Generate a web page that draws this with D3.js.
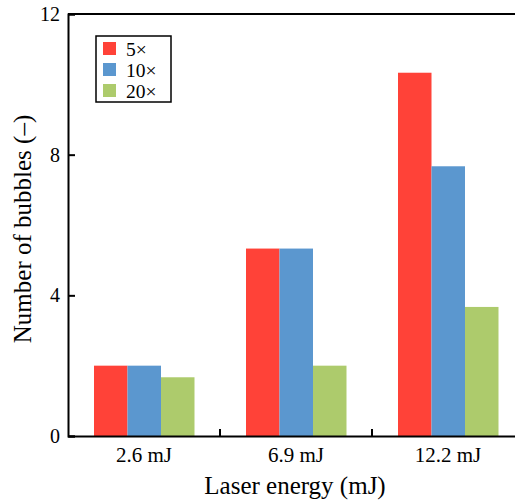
<!DOCTYPE html>
<html>
<head>
<meta charset="utf-8">
<script src="https://cdn.jsdelivr.net/npm/d3@7"></script>
<style>
  body { margin: 0; background: #fff; }
</style>
</head>
<body>
<div id="chart"></div>
<script>
const categories = ['2.6 mJ', '6.9 mJ', '12.2 mJ'];
const seriesNames = ['5\u00d7', '10\u00d7', '20\u00d7'];
const values5x = [2, 5.33, 10.33];
const values10x = [2, 5.33, 7.67];
const values20x = [1.67, 2, 3.67];
const yTicks = [0, 4, 8, 12];
const seriesColors = ['#ff4238', '#5b97cf', '#adcb6c'];

const serif = "'Liberation Serif', 'Times New Roman', Times, serif";
const margin = { top: 14, right: 0, bottom: 64, left: 68 };
const width = 456;
const height = 422;

const svg = d3.select('#chart')
  .append('svg')
  .attr('width', 515)
  .attr('height', 500)
  .append('g')
  .attr('transform', 'translate(' + margin.left + ',' + margin.top + ')');

const x = d3.scaleBand().domain(categories).range([0, width]).paddingInner(0).paddingOuter(0);
const xInner = d3.scaleBand().domain(seriesNames).range([26, 26 + 100.5]);
const y = d3.scaleLinear().domain([0, 12]).range([height, 0]);

const allSeries = [values5x, values10x, values20x];

categories.forEach((c, i) => {
  const g = svg.append('g').attr('transform', 'translate(' + x(c) + ',0)');
  seriesNames.forEach((s, j) => {
    const v = allSeries[j][i];
    g.append('rect')
      .attr('x', xInner(s))
      .attr('width', xInner.bandwidth())
      .attr('y', y(v))
      .attr('height', height - y(v))
      .attr('fill', seriesColors[j]);
  });
});

// frame top line
svg.append('line')
  .attr('x1', 0).attr('x2', width)
  .attr('y1', 0).attr('y2', 0)
  .attr('stroke', '#000').attr('stroke-width', 2);

// y axis, ticks point inward
const yAxis = svg.append('g')
  .call(d3.axisLeft(y).tickValues(yTicks).tickSize(-7).tickPadding(8))
  .attr('font-family', serif).attr('font-size', 20);
yAxis.select('.domain').attr('stroke-width', 2);
yAxis.selectAll('.tick line').attr('stroke-width', 2);
yAxis.selectAll('.tick text').attr('fill', '#000');

// x axis
const xAxis = svg.append('g')
  .attr('transform', 'translate(0,' + height + ')')
  .call(d3.axisBottom(x).tickSize(0).tickPadding(11))
  .attr('font-family', serif).attr('font-size', 21);
xAxis.select('.domain').attr('stroke-width', 2);
xAxis.selectAll('.tick text').attr('fill', '#000');

// x ticks at category boundaries, pointing in
categories.slice(1).forEach(c => {
  svg.append('line')
    .attr('x1', x(c)).attr('x2', x(c))
    .attr('y1', height).attr('y2', height - 7)
    .attr('stroke', '#000').attr('stroke-width', 2);
});

// axis titles
svg.append('text')
  .attr('x', 227)
  .attr('y', height + 58)
  .attr('text-anchor', 'middle')
  .attr('font-family', serif)
  .attr('font-size', 25)
  .text('Laser energy (mJ)');

svg.append('text')
  .attr('transform', 'translate(-37,215) rotate(-90)')
  .attr('text-anchor', 'middle')
  .attr('font-family', serif)
  .attr('font-size', 25)
  .text('Number of bubbles (\u2013)');

// legend
const legend = svg.append('g').attr('transform', 'translate(28,22)');
legend.append('rect')
  .attr('width', 75).attr('height', 66)
  .attr('fill', '#fff').attr('stroke', '#000').attr('stroke-width', 1.5);
seriesNames.forEach((s, j) => {
  const row = legend.append('g').attr('transform', 'translate(7,' + (6 + j * 21) + ')');
  row.append('rect').attr('width', 13).attr('height', 13).attr('fill', seriesColors[j]);
  row.append('text')
    .attr('x', 23).attr('y', 14)
    .attr('font-family', serif)
    .attr('font-size', 19.5)
    .text(s);
});
</script>
</body>
</html>
